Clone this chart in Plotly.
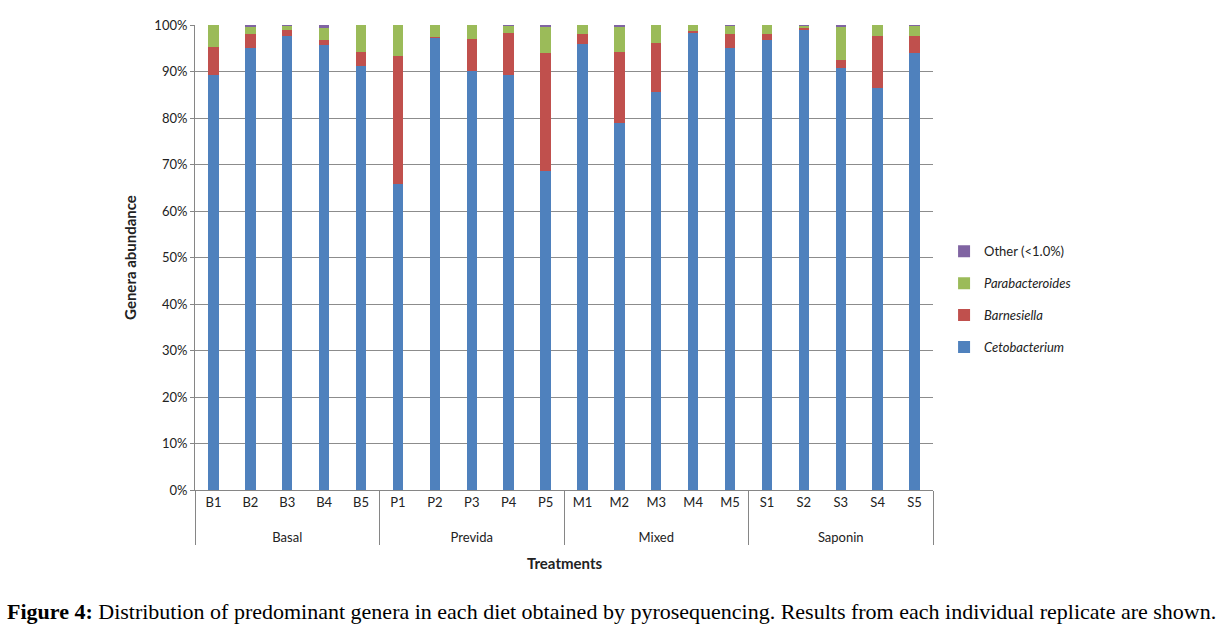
import plotly.graph_objects as go

groups = ["Basal"] * 5 + ["Previda"] * 5 + ["Mixed"] * 5 + ["Saponin"] * 5
samples = ["B1", "B2", "B3", "B4", "B5",
           "P1", "P2", "P3", "P4", "P5",
           "M1", "M2", "M3", "M4", "M5",
           "S1", "S2", "S3", "S4", "S5"]

cetobacterium = [89.2, 95.1, 97.7, 95.7, 91.2,
                 65.8, 97.4, 90.1, 89.2, 68.5,
                 95.9, 79.0, 85.6, 98.4, 95.0,
                 96.8, 99.1, 90.7, 86.5, 94.0]
barnesiella = [6.1, 3.0, 1.3, 1.1, 3.1,
               27.6, 0.1, 6.8, 9.0, 25.5,
               2.2, 15.1, 10.6, 0.4, 3.0,
               1.3, 0.2, 1.8, 11.1, 3.7]
parabacteroides = [4.7, 1.5, 0.8, 2.6, 5.7,
                   6.6, 2.5, 3.1, 1.6, 5.6,
                   1.9, 5.5, 3.8, 1.2, 1.8,
                   1.9, 0.5, 7.1, 2.4, 2.1]
other = [0.0, 0.4, 0.2, 0.6, 0.0,
         0.0, 0.0, 0.0, 0.2, 0.4,
         0.0, 0.4, 0.0, 0.0, 0.2,
         0.0, 0.2, 0.4, 0.0, 0.2]

series = [
    ("<i>Cetobacterium</i>", cetobacterium, "#4F81BD"),
    ("<i>Barnesiella</i>", barnesiella, "#C0504D"),
    ("<i>Parabacteroides</i>", parabacteroides, "#9BBB59"),
    ("Other (<1.0%)", other, "#8064A2"),
]

# group labels pushed one line lower (Excel-like spacing)
group_labels = ["<br>" + g for g in groups]

fig = go.Figure()
n = len(series)
for i, (name, vals, col) in enumerate(series):
    fig.add_trace(go.Bar(
        x=[group_labels, samples], y=vals, name=name,
        marker=dict(color=col, line=dict(width=0)),
        legendgroup=f"g{i}", legendrank=n - i,
    ))

font = "Lato, 'Open Sans', sans-serif"
fig.update_layout(
    barmode="stack",
    bargap=0.72,
    width=1231, height=634,
    margin=dict(l=195, r=298, t=25, b=144),
    plot_bgcolor="white", paper_bgcolor="white",
    font=dict(family=font, size=13, color="#222222"),
    legend=dict(
        traceorder="grouped", tracegroupgap=12,
        x=1.015, xanchor="left", y=0.41, yanchor="middle",
        font=dict(size=13, family=font, color="#222222"),
        itemwidth=30,
    ),
    xaxis=dict(
        type="multicategory",
        showline=True, linecolor="#868686", linewidth=1,
        showdividers=True, dividercolor="#868686", dividerwidth=1,
        ticks="", tickfont=dict(size=13),
        showgrid=False,
    ),
    yaxis=dict(
        range=[0, 100],
        tickvals=list(range(0, 101, 10)),
        ticktext=[f"{v}%" for v in range(0, 101, 10)],
        showline=True, linecolor="#868686", linewidth=1,
        ticks="outside", ticklen=4, tickcolor="#868686",
        showgrid=True, gridcolor="#8C8C8C", gridwidth=1,
        title=dict(text="<b>Genera abundance</b>", font=dict(size=15), standoff=14),
        tickfont=dict(size=13),
        zeroline=False,
    ),
    annotations=[
        dict(text="<b>Treatments</b>", xref="paper", yref="paper",
             x=0.5, y=-0.157, xanchor="center", yanchor="middle",
             showarrow=False, font=dict(size=15, family=font, color="#222222")),
        dict(text="<b>Figure 4:</b> Distribution of predominant genera in each diet obtained by pyrosequencing. Results from each individual replicate are shown.",
             xref="paper", yref="paper", x=0.565, y=-0.262,
             xanchor="center", yanchor="middle", showarrow=False,
             font=dict(size=22, family="'Liberation Serif', 'Times New Roman', serif", color="#000000")),
    ],
)

fig.write_html("out.html")
